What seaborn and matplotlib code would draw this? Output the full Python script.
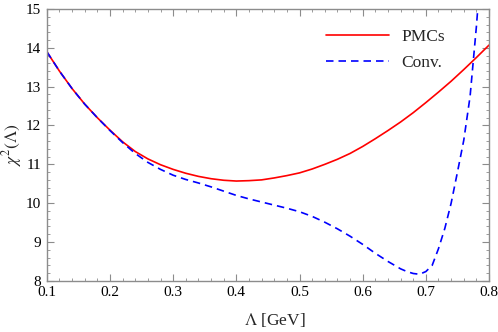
import matplotlib
matplotlib.use("Agg")
import matplotlib.pyplot as plt
import seaborn as sns
import pandas as pd
from matplotlib.ticker import MultipleLocator

# values
lam_pmc = [0.10, 0.12, 0.14, 0.16, 0.18, 0.20, 0.22, 0.24, 0.26, 0.28, 0.30,
           0.32, 0.34, 0.36, 0.38, 0.40, 0.42, 0.44, 0.46, 0.48, 0.50, 0.52,
           0.54, 0.56, 0.58, 0.60, 0.62, 0.64, 0.66, 0.68, 0.70, 0.72, 0.74,
           0.76, 0.78, 0.80]
chi2_pmc = [13.90, 13.40, 12.95, 12.55, 12.20, 11.88, 11.58, 11.33, 11.14, 10.99, 10.87,
            10.77, 10.69, 10.63, 10.59, 10.57, 10.58, 10.60, 10.65, 10.71, 10.78, 10.88,
            11.00, 11.13, 11.28, 11.46, 11.66, 11.87, 12.09, 12.33, 12.59, 12.86, 13.14,
            13.44, 13.75, 14.07]

lam_conv = [0.10, 0.12, 0.14, 0.16, 0.18, 0.20, 0.22, 0.24, 0.26, 0.28, 0.30,
            0.32, 0.34, 0.36, 0.38, 0.40, 0.42, 0.44, 0.46, 0.48, 0.50, 0.52,
            0.54, 0.56, 0.58, 0.60, 0.62, 0.64, 0.66, 0.67, 0.68, 0.69, 0.70,
            0.71, 0.72, 0.73, 0.74, 0.75, 0.76, 0.77, 0.78, 0.785]
chi2_conv = [13.90, 13.40, 12.95, 12.55, 12.20, 11.87, 11.56, 11.28, 11.05, 10.87, 10.72,
             10.61, 10.52, 10.42, 10.31, 10.20, 10.11, 10.03, 9.95, 9.87, 9.78, 9.66,
             9.51, 9.34, 9.15, 8.94, 8.71, 8.50, 8.31, 8.24, 8.19, 8.17, 8.24,
             8.40, 8.83, 9.35, 10.00, 10.80, 11.62, 12.75, 14.55, 15.60]

df_pmc = pd.DataFrame({"lam": lam_pmc, "chi2": chi2_pmc})
df_conv = pd.DataFrame({"lam": lam_conv, "chi2": chi2_conv})

sns.set_style("ticks")
plt.rcParams["font.family"] = ["Liberation Serif", "DejaVu Serif"]
plt.rcParams["mathtext.fontset"] = "stix"

fig, ax = plt.subplots(figsize=(4.98, 3.32), dpi=100)
fig.subplots_adjust(left=0.094, right=0.982, bottom=0.154, top=0.973)

sns.lineplot(data=df_pmc, x="lam", y="chi2", ax=ax, color="#ff0000",
             lw=1.2, label="PMCs", sort=False)
sns.lineplot(data=df_conv, x="lam", y="chi2", ax=ax, color="#0000ff",
             lw=1.2, label="Conv.", sort=False)
ax.lines[1].set_dashes([4.5, 3])

ax.set_xlim(0.1, 0.8)
ax.set_ylim(8, 15)
ax.xaxis.set_major_locator(MultipleLocator(0.1))
ax.xaxis.set_minor_locator(MultipleLocator(0.02))
ax.yaxis.set_major_locator(MultipleLocator(1))
ax.yaxis.set_minor_locator(MultipleLocator(0.2))
ax.xaxis.set_major_formatter(plt.FuncFormatter(lambda v, p: f"{v:.1f}"))

gray = "#8c8c8c"
for s in ax.spines.values():
    s.set_visible(True)
    s.set_color(gray)
    s.set_linewidth(1.0)
ax.tick_params(which="both", direction="in", top=True, right=True,
               color=gray, labelsize=11, labelcolor="black")
ax.tick_params(which="major", length=5, width=0.8, pad=4)
ax.tick_params(which="minor", length=2.5, width=0.6)

ax.set_xlabel(r"$\Lambda$ [GeV]", fontsize=12.5)
ax.set_ylabel(r"$\chi^2(\mathit{\Lambda})$", fontsize=12.5)
ax.xaxis.set_label_coords(0.516, -0.11)
ax.yaxis.set_label_coords(-0.052, 0.5)

leg = ax.legend(loc="upper right", frameon=False, fontsize=12.5,
                handlelength=3.6, handletextpad=0.7, labelspacing=0.6,
                bbox_to_anchor=(0.935, 0.985))

fig.savefig("out.png", dpi=100)
